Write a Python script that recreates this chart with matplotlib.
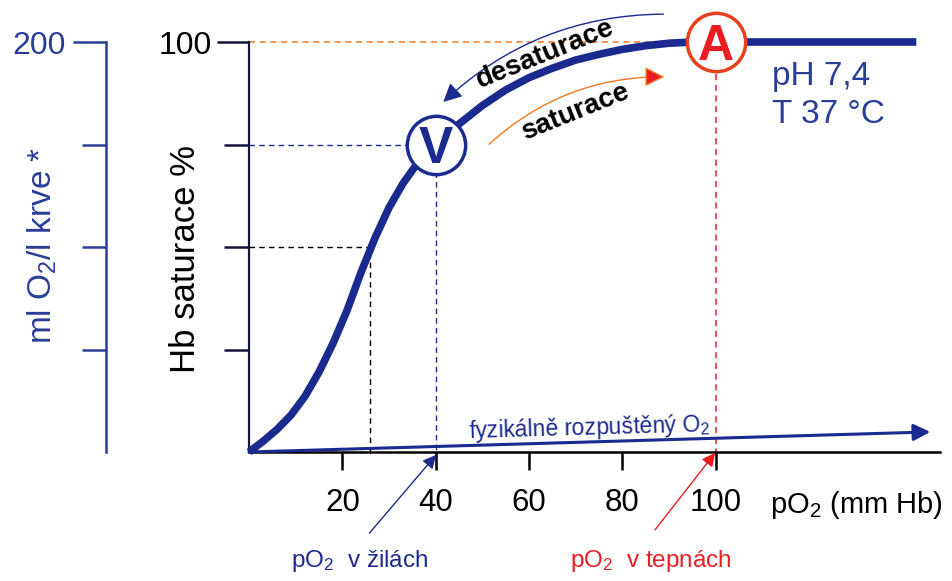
import matplotlib.pyplot as plt

plt.rcParams['font.family'] = ['Liberation Sans', 'DejaVu Sans']
plt.rcParams['mathtext.fontset'] = 'custom'
plt.rcParams['mathtext.rm'] = 'Liberation Sans'
plt.rcParams['mathtext.it'] = 'Liberation Sans:italic'
plt.rcParams['mathtext.bf'] = 'Liberation Sans:bold'

# oxygen dissociation curve
po2 = [0, 3, 6, 9, 12, 15, 18, 21, 24, 27, 30, 33, 36, 40, 45, 50, 55, 60,
       65, 70, 75, 80, 85, 90, 95, 100, 143]
saturation = [0, 2.6, 5.5, 9, 13.6, 19.5, 26.5, 34.5, 43.8, 52.2, 59.6, 65.5,
              70.3, 75, 80, 84.5, 88.3, 91.3, 93.6, 95.6, 97, 98.2, 99.1,
              99.7, 100, 100, 100]

x_ticks = [20, 40, 60, 80, 100]
sat_ticks = [25, 50, 75, 100]
sat_labels = ['', '', '', '100']
o2_ticks = [50, 100, 150, 200]
o2_labels = ['', '', '', '200']

p50 = 26
venous = (40, 75)
arterial = (100, 100)

NAVY = '#1b2a8e'
BLUE = '#2a3d97'
RED = '#ec1c24'
ORANGE = '#f07a22'

fig = plt.figure(figsize=(9.52, 5.81), dpi=100)
ax = fig.add_axes([249 / 952, 129 / 581, 700 / 952, 410 / 581])
ax.set_xlim(0, 150)
ax.set_ylim(0, 100)

for s in ['top', 'right']:
    ax.spines[s].set_visible(False)
ax.spines['left'].set_bounds(0, 100)
ax.spines['left'].set_color('#14143c')
ax.spines['left'].set_linewidth(1.6)
ax.spines['bottom'].set_bounds(0, 148)
ax.spines['bottom'].set_color('black')
ax.spines['bottom'].set_linewidth(1.8)

ax.set_xticks(x_ticks)
ax.tick_params(axis='x', length=13, width=1.8, pad=13, labelsize=22.5,
               color='black')
ax.set_yticks(sat_ticks)
ax.set_yticklabels(sat_labels)
ax.tick_params(axis='y', length=23, width=1.8, pad=4, labelsize=23,
               color='#14143c')
for t in ax.yaxis.get_major_ticks()[:-1]:
    t.tick1line.set_markersize(18)

sec = ax.secondary_yaxis(-0.204, functions=(lambda y: y * 2, lambda y: y / 2))
sec.set_yticks(o2_ticks)
sec.set_yticklabels(o2_labels)
sec.tick_params(length=24, width=1.8, pad=5, labelsize=23, colors=BLUE)
for t in sec.yaxis.get_major_ticks()[:-1]:
    t.tick1line.set_markersize(17)
for s in sec.spines.values():
    s.set_color(BLUE)
    s.set_linewidth(1.8)

# guide lines
ax.plot([0, p50, p50], [50, 50, 0], ls=(0, (4, 3)), color='black', lw=1)
ax.plot([0, venous[0], venous[0]], [venous[1], venous[1], 0],
        ls=(0, (4, 3)), color=NAVY, lw=1)
ax.plot([0, arterial[0]], [arterial[1], arterial[1]], ls=(0, (4, 3)),
        color=ORANGE, lw=1.1, clip_on=False)
ax.plot([arterial[0], arterial[0]], [arterial[1], 0], ls=(0, (4, 3)),
        color=RED, lw=1.1, clip_on=False)

ax.plot(po2, saturation, color=NAVY, lw=5.5, solid_capstyle='butt',
        solid_joinstyle='round', clip_on=False, zorder=3)

# physically dissolved O2
ax.annotate('', xy=(146, 4.9), xytext=(0, 0), annotation_clip=False,
            arrowprops=dict(arrowstyle='-|>', color=NAVY, lw=2.2,
                            mutation_scale=25, shrinkA=0, shrinkB=0))
ax.text(73, 5.8, 'fyzikálně rozpuštěný O$_2$', color=NAVY, fontsize=16.5,
        ha='center', va='center', rotation=1.6, rotation_mode='anchor')

# V and A points
ax.plot(*venous, 'o', ms=42, mfc='white', mec=NAVY, mew=2.5, zorder=5,
        clip_on=False)
ax.text(venous[0], venous[1] - 1.2, 'V', ha='center', va='center',
        fontsize=37, fontweight='bold', color=NAVY, zorder=6)
ax.plot(*arterial, 'o', ms=42, mfc='white', mec='#e8401c', mew=2.5, zorder=5,
        clip_on=False)
ax.text(arterial[0], arterial[1] - 1.2, 'A', ha='center', va='center',
        fontsize=36, fontweight='bold', color=RED, zorder=6)

# saturation / desaturation arrows
ax.annotate('', xy=(41.2, 84.9), xytext=(89.4, 106.8), annotation_clip=False,
            arrowprops=dict(arrowstyle='-|>', connectionstyle='arc3,rad=0.2',
                            color=NAVY, lw=1, mutation_scale=28))
ax.annotate('', xy=(89.6, 91.5), xytext=(51.0, 74.6), annotation_clip=False,
            arrowprops=dict(arrowstyle='-|>', connectionstyle='arc3,rad=-0.2',
                            ec=ORANGE, fc=RED, lw=1, mutation_scale=30))
ax.text(63.5, 97.0, 'desaturace', rotation=22, ha='center', va='center',
        fontsize=20, fontweight='bold', color='black', zorder=7)
ax.text(70.0, 83.0, 'saturace', rotation=22, ha='center', va='center',
        fontsize=20, fontweight='bold', color='black', zorder=7)

# conditions
ax.text(112.0, 89.5, 'pH 7,4', color=BLUE, fontsize=24, va='baseline')
ax.text(112.0, 80.2, 'T 37 °C', color=BLUE, fontsize=24, va='baseline')

# axis labels
ax.text(111.7, -12.9, 'pO$_2$ (mm Hb)', color='black', fontsize=21,
        va='center', clip_on=False)
ax.text(-13.6, 47.0, 'Hb saturace %', color='black', fontsize=25,
        rotation=90, ha='center', va='center')
ax.text(-44.2, 50.5, 'ml O$_2$/l krve *', color=BLUE, fontsize=24,
        rotation=90, ha='center', va='center')

# venous / arterial pO2 pointers
ax.annotate('', xy=(40.1, -0.7), xytext=(25.8, -19.8), annotation_clip=False,
            arrowprops=dict(arrowstyle='-|>', color=NAVY, lw=1,
                            mutation_scale=20, shrinkA=0, shrinkB=0))
ax.annotate('', xy=(99.9, -0.2), xytext=(87.0, -19.0), annotation_clip=False,
            arrowprops=dict(arrowstyle='-|>', color=RED, lw=1,
                            mutation_scale=20, shrinkA=0, shrinkB=0))
ax.text(23.8, -26.6, 'pO$_2$  v žilách', color=NAVY, fontsize=17.5,
        ha='center', va='center')
ax.text(86.2, -26.6, 'pO$_2$  v tepnách', color=RED, fontsize=17.5,
        ha='center', va='center')

fig.savefig('out.png', dpi=100, facecolor='white')
